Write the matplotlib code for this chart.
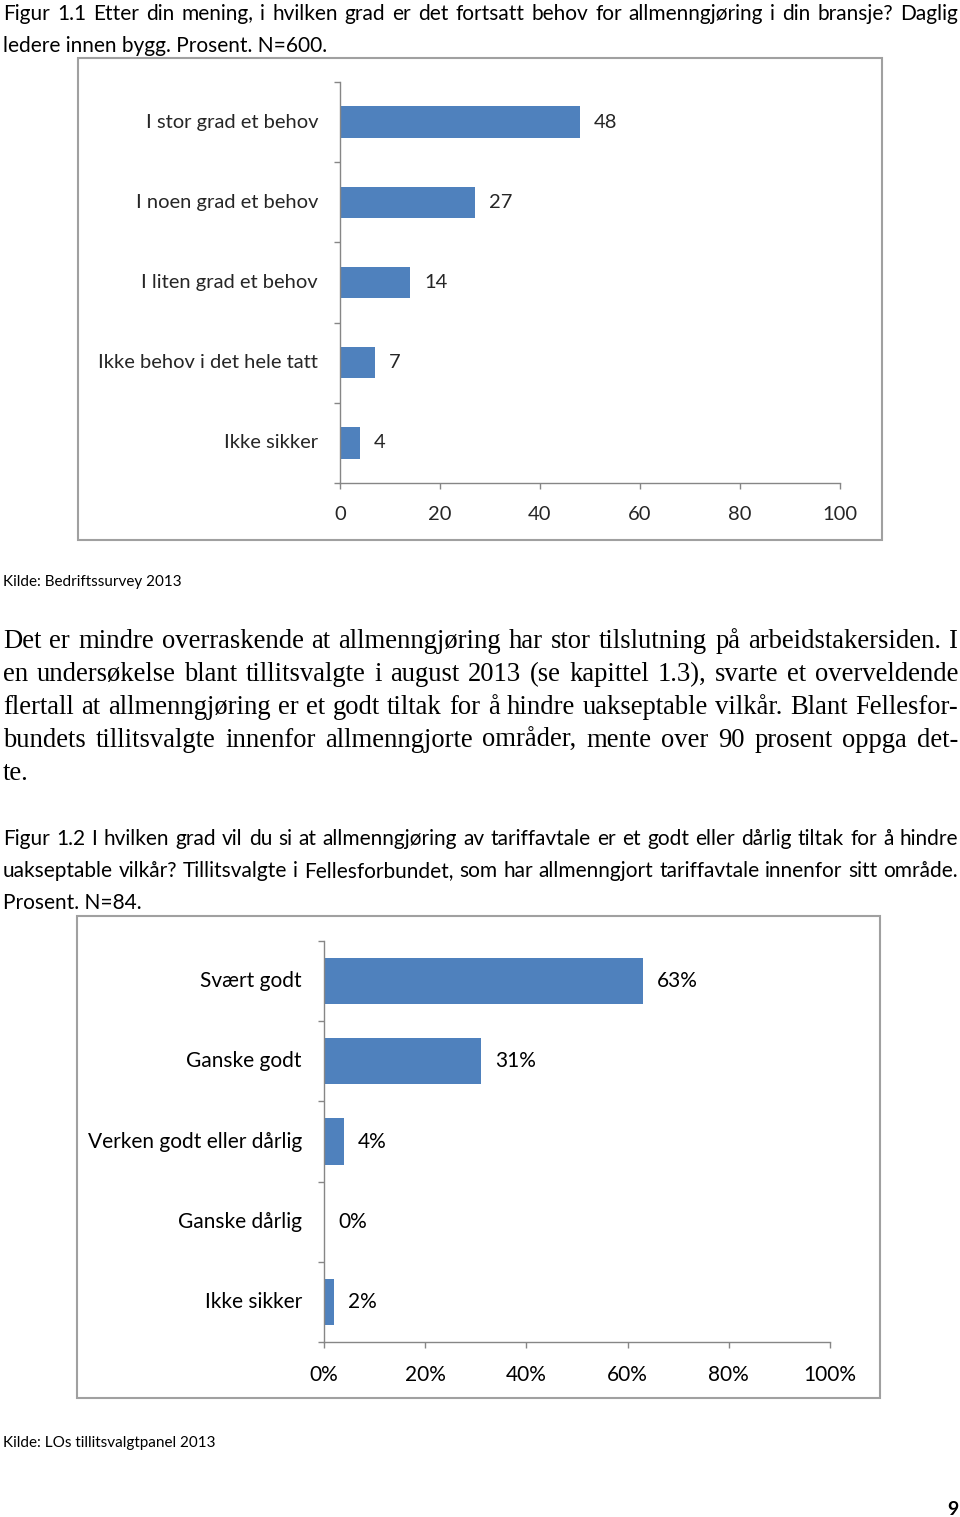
import matplotlib
matplotlib.use('Agg')
import matplotlib.pyplot as plt
from matplotlib.patches import Rectangle
from matplotlib.transforms import blended_transform_factory, offset_copy

W, H = 960, 1517

# Figur 1.1
cat1 = ['I stor grad et behov', 'I noen grad et behov', 'I liten grad et behov',
        'Ikke behov i det hele tatt', 'Ikke sikker']
val1 = [48, 27, 14, 7, 4]
ticks1 = [0, 20, 40, 60, 80, 100]

# Figur 1.2
cat2 = ['Svært godt', 'Ganske godt', 'Verken godt eller dårlig', 'Ganske dårlig', 'Ikke sikker']
val2 = [63, 31, 4, 0, 2]
ticks2 = [0, 20, 40, 60, 80, 100]

caption1 = ["Figur 1.1 Etter din mening, i hvilken grad er det fortsatt behov for allmenngjøring i din bransje? Daglig",
            "ledere innen bygg. Prosent. N=600."]
source1 = "Kilde: Bedriftssurvey 2013"
body = ["Det er mindre overraskende at allmenngjøring har stor tilslutning på arbeidstakersiden. I",
        "en undersøkelse blant tillitsvalgte i august 2013 (se kapittel 1.3), svarte et overveldende",
        "flertall at allmenngjøring er et godt tiltak for å hindre uakseptable vilkår. Blant Fellesfor-",
        "bundets tillitsvalgte innenfor allmenngjorte områder, mente over 90 prosent oppga det-",
        "te."]
caption2 = ["Figur 1.2 I hvilken grad vil du si at allmenngjøring av tariffavtale er et godt eller dårlig tiltak for å hindre",
            "uakseptable vilkår? Tillitsvalgte i Fellesforbundet, som har allmenngjort tariffavtale innenfor sitt område.",
            "Prosent. N=84."]
source2 = "Kilde: LOs tillitsvalgtpanel 2013"
page_no = "9"

BLUE = '#4F81BD'
GREY = '#868686'
SANS = 'Lato'
SERIF = 'Liberation Serif'

fig = plt.figure(figsize=(W / 100, H / 100), dpi=100)
bg = fig.add_axes([0, 0, 1, 1])
bg.set_xlim(0, W)
bg.set_ylim(H, 0)
bg.axis('off')
r = fig.canvas.get_renderer()


def width(s, size, family):
    t = bg.text(0, 0, s, fontsize=size, family=family)
    w = t.get_window_extent(r).width
    t.remove()
    return w


def fit(lines, size, family, avail=955):
    wmax = max(width(l, size, family) for l in lines)
    return size if wmax <= avail else size * avail / wmax


def paragraph(lines, y0, step, size, family, x0=3, x1=958, last_free=True):
    for k, line in enumerate(lines):
        y = y0 + k * step
        words = line.split(' ')
        if (last_free and k == len(lines) - 1) or len(words) == 1:
            bg.text(x0, y, line, fontsize=size, family=family, va='baseline')
            continue
        ts = [bg.text(0, y, w, fontsize=size, family=family, va='baseline') for w in words]
        ws = [t.get_window_extent(r).width for t in ts]
        gap = (x1 - x0 - sum(ws)) / (len(words) - 1)
        x = x0
        for t, w in zip(ts, ws):
            t.set_x(x)
            x += w + gap


def chart(frame, axbox, cats, vals, ticks, fmt, size, bar_h, color):
    fl, ft, fr, fb = frame
    bg.add_patch(Rectangle((fl, ft), fr - fl, fb - ft, fill=False, ec='#A0A0A0', lw=1.5))
    l, t, rr, b = axbox
    ax = fig.add_axes([l / W, 1 - b / H, (rr - l) / W, (b - t) / H])
    ax.patch.set_alpha(0)
    y = list(range(len(cats)))
    ax.barh(y, vals, height=bar_h, color=BLUE)
    ax.set_ylim(len(cats) - 0.5, -0.5)
    ax.set_xlim(ticks[0], ticks[-1])
    for s in ['top', 'right']:
        ax.spines[s].set_visible(False)
    for s in ['left', 'bottom']:
        ax.spines[s].set_color(GREY)
        ax.spines[s].set_linewidth(1)
    ax.set_yticks([i - 0.5 for i in range(len(cats) + 1)])
    ax.set_yticklabels([])
    ax.set_xticks(ticks)
    ax.set_xticklabels([fmt(v) for v in ticks], family=SANS, fontsize=size, color=color)
    ax.tick_params(length=4.3, color=GREY, width=1, pad=12)
    tr = offset_copy(blended_transform_factory(ax.transAxes, ax.transData), fig, x=-22, units='dots')
    for i, c in enumerate(cats):
        ax.text(0, i, c, transform=tr, ha='right', va='center', family=SANS, fontsize=size, color=color)
    tv = offset_copy(ax.transData, fig, x=14, units='dots')
    for i, v in enumerate(vals):
        ax.text(v, i, fmt(v), transform=tv, ha='left', va='center', family=SANS, fontsize=size, color=color)
    return ax


cap_size = fit(caption1 + caption2, 15, SANS)
paragraph(caption1, 20, 32, cap_size, SANS)
paragraph(caption2, 845, 32, cap_size, SANS)
bg.text(3, 586, source1, fontsize=11, family=SANS, va='baseline')
bg.text(3, 1447, source2, fontsize=11, family=SANS, va='baseline')

body_size = fit(body, 22, SERIF, avail=945)
paragraph(body, 648, 33, body_size, SERIF)

bg.text(958, 1515, page_no, fontsize=14, family=SANS, fontweight='bold', ha='right', va='baseline')

chart((78, 58, 882, 540), (340, 82, 840, 483), cat1, val1, ticks1, lambda v: f"{v}",
      14.5, 0.39, '#262626')
chart((77, 916, 880, 1398), (324, 941, 830, 1342), cat2, val2, ticks2, lambda v: f"{v}%",
      15, 0.575, 'black')

fig.savefig('out.png', dpi=100)
